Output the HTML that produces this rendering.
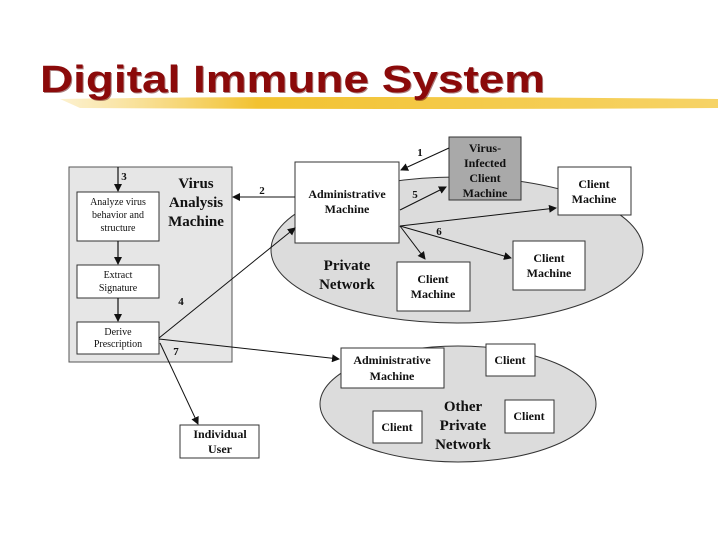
<!DOCTYPE html>
<html><head><meta charset="utf-8"><style>
body{margin:0;background:#fff;width:720px;height:540px;overflow:hidden}
svg{display:block}
.s{font-family:"Liberation Serif",serif;text-anchor:middle;fill:#111}
.b{font-weight:bold}
</style></head><body>
<svg width="720" height="540" viewBox="0 0 720 540">
<defs>
<marker id="a" markerWidth="8" markerHeight="8" refX="7" refY="4" orient="auto" markerUnits="userSpaceOnUse"><path d="M0,0 L8,4 L0,8 z" fill="#111"/></marker>
<linearGradient id="y" x1="0" x2="1"><stop offset="0" stop-color="#f5d060" stop-opacity="0.3"/><stop offset="0.3" stop-color="#f2c230"/><stop offset="1" stop-color="#f4c840" stop-opacity="0.8"/></linearGradient>
</defs>
<path d="M60,99 Q300,95 718,99 L718,108 Q400,110 80,108 z" fill="url(#y)"/>
<text x="41" y="93" font-family="Liberation Sans,sans-serif" font-weight="bold" font-size="38" fill="#5a0000" opacity="0.5" textLength="505" lengthAdjust="spacingAndGlyphs">Digital Immune System</text>
<text x="40" y="92" font-family="Liberation Sans,sans-serif" font-weight="bold" font-size="38" fill="#8b0a0a" textLength="505" lengthAdjust="spacingAndGlyphs">Digital Immune System</text>

<rect x="69" y="167" width="163" height="195" fill="#e6e6e6" stroke="#555" stroke-width="1"/>
<text class="s b" font-size="15"><tspan x="196" y="188">Virus</tspan><tspan x="196" y="207">Analysis</tspan><tspan x="196" y="226">Machine</tspan></text>
<rect x="77" y="192" width="82" height="49" fill="#fff" stroke="#333"/>
<text class="s" font-size="10"><tspan x="118" y="205">Analyze virus</tspan><tspan x="118" y="218">behavior and</tspan><tspan x="118" y="231">structure</tspan></text>
<rect x="77" y="265" width="82" height="33" fill="#fff" stroke="#333"/>
<text class="s" font-size="10"><tspan x="118" y="278">Extract</tspan><tspan x="118" y="291">Signature</tspan></text>
<rect x="77" y="322" width="82" height="32" fill="#fff" stroke="#333"/>
<text class="s" font-size="10"><tspan x="118" y="335">Derive</tspan><tspan x="118" y="347">Prescription</tspan></text>
<g stroke="#111" stroke-width="1.2" fill="none" marker-end="url(#a)">
<line x1="118" y1="167" x2="118" y2="191"/>
<line x1="118" y1="241" x2="118" y2="264"/>
<line x1="118" y1="298" x2="118" y2="321"/>
</g>
<text class="s b" font-size="11" x="124" y="180">3</text>

<rect x="180" y="425" width="79" height="33" fill="#fff" stroke="#333"/>
<text class="s b" font-size="12"><tspan x="220" y="438">Individual</tspan><tspan x="220" y="453">User</tspan></text>

<ellipse cx="457" cy="250" rx="186" ry="73" fill="#dcdcdc" stroke="#333"/>
<text class="s b" font-size="15"><tspan x="347" y="270">Private</tspan><tspan x="347" y="289">Network</tspan></text>
<rect x="295" y="162" width="104" height="81" fill="#fff" stroke="#333"/>
<text class="s b" font-size="12"><tspan x="347" y="198">Administrative</tspan><tspan x="347" y="213">Machine</tspan></text>
<rect x="449" y="137" width="72" height="63" fill="#a9a9a9" stroke="#333"/>
<text class="s b" font-size="12"><tspan x="485" y="152">Virus-</tspan><tspan x="485" y="167">Infected</tspan><tspan x="485" y="182">Client</tspan><tspan x="485" y="197">Machine</tspan></text>
<rect x="558" y="167" width="73" height="48" fill="#fff" stroke="#333"/>
<text class="s b" font-size="12"><tspan x="594" y="188">Client</tspan><tspan x="594" y="203">Machine</tspan></text>
<rect x="397" y="262" width="73" height="49" fill="#fff" stroke="#333"/>
<text class="s b" font-size="12"><tspan x="433" y="283">Client</tspan><tspan x="433" y="298">Machine</tspan></text>
<rect x="513" y="241" width="72" height="49" fill="#fff" stroke="#333"/>
<text class="s b" font-size="12"><tspan x="549" y="262">Client</tspan><tspan x="549" y="277">Machine</tspan></text>

<ellipse cx="458" cy="404" rx="138" ry="58" fill="#dcdcdc" stroke="#333"/>
<rect x="341" y="348" width="103" height="40" fill="#fff" stroke="#333"/>
<text class="s b" font-size="12"><tspan x="392" y="364">Administrative</tspan><tspan x="392" y="380">Machine</tspan></text>
<rect x="486" y="344" width="49" height="32" fill="#fff" stroke="#333"/>
<text class="s b" font-size="12" x="510" y="364">Client</text>
<rect x="373" y="411" width="49" height="32" fill="#fff" stroke="#333"/>
<text class="s b" font-size="12" x="397" y="431">Client</text>
<rect x="505" y="400" width="49" height="33" fill="#fff" stroke="#333"/>
<text class="s b" font-size="12" x="529" y="420">Client</text>
<text class="s b" font-size="15"><tspan x="463" y="411">Other</tspan><tspan x="463" y="430">Private</tspan><tspan x="463" y="449">Network</tspan></text>

<g stroke="#111" stroke-width="1" fill="none" marker-end="url(#a)">
<line x1="449" y1="148" x2="401" y2="170"/>
<line x1="295" y1="197" x2="233" y2="197"/>
<line x1="400" y1="210" x2="446" y2="187"/>
<line x1="400" y1="226" x2="556" y2="208"/>
<line x1="400" y1="226" x2="511" y2="258"/>
<line x1="400" y1="226" x2="425" y2="259"/>
<line x1="159" y1="338" x2="295" y2="228"/>
<line x1="159" y1="339" x2="339" y2="359"/>
<line x1="160" y1="343" x2="198" y2="424"/>
</g>
<g class="s b" font-size="11">
<text x="420" y="156">1</text>
<text x="262" y="194">2</text>
<text x="415" y="198">5</text>
<text x="439" y="235">6</text>
<text x="181" y="305">4</text>
<text x="176" y="355">7</text>
</g>
</svg>
</body></html>
